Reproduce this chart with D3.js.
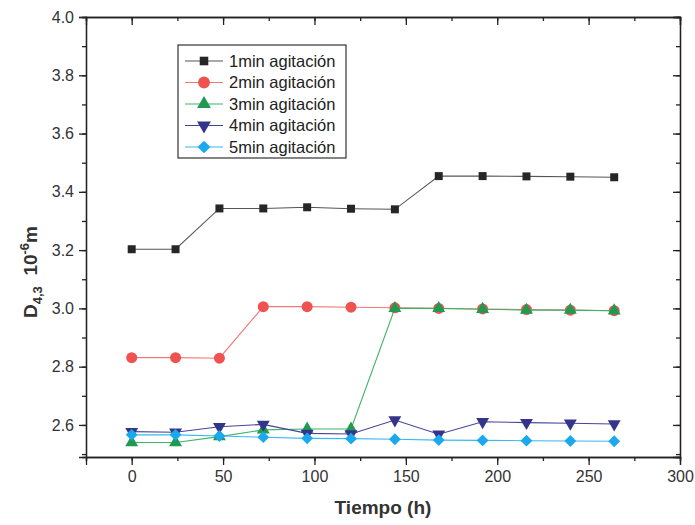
<!DOCTYPE html>
<html>
<head>
<meta charset="utf-8">
<script src="https://cdn.jsdelivr.net/npm/d3@7"></script>
<style>
  body { margin: 0; background: #fff; }
  svg { font-family: "Liberation Sans", Arial, sans-serif; }
  .axis path, .axis line { stroke: #222; stroke-width: 1.3; }
  .axis text { fill: #333; font-size: 16px; }
</style>
</head>
<body>
<svg id="chart" width="695" height="525"></svg>
<script>
// tiempo (h)
const tiempo = [0, 24, 48, 72, 96, 120, 144, 168, 192, 216, 240, 264];

const min1 = [3.203, 3.203, 3.343, 3.343, 3.347, 3.342, 3.340, 3.454, 3.454, 3.453, 3.452, 3.450];
const min2 = [2.831, 2.831, 2.829, 3.006, 3.006, 3.004, 3.002, 3.000, 2.998, 2.996, 2.994, 2.992];
const min3 = [2.540, 2.540, 2.560, 2.583, 2.586, 2.586, 3.000, 3.000, 2.997, 2.994, 2.994, 2.992];
const min4 = [2.577, 2.575, 2.594, 2.602, 2.571, 2.569, 2.617, 2.568, 2.611, 2.608, 2.606, 2.603];
const min5 = [2.566, 2.566, 2.562, 2.558, 2.554, 2.553, 2.551, 2.548, 2.547, 2.546, 2.545, 2.544];

const nombres = ["1min agitación", "2min agitación", "3min agitación", "4min agitación", "5min agitación"];
const xTicks = [0, 50, 100, 150, 200, 250, 300];
const yTicks = [2.6, 2.8, 3.0, 3.2, 3.4, 3.6, 3.8, 4.0];

const series = [
    { name: nombres[0], values: min1, fill: "#262626", line: "#555", shape: "square" },
    { name: nombres[1], values: min2, fill: "#f0524f", line: "#f07a78", shape: "circle" },
    { name: nombres[2], values: min3, fill: "#1f9a50", line: "#3cb46a", shape: "up" },
    { name: nombres[3], values: min4, fill: "#34348a", line: "#45459a", shape: "down" },
    { name: nombres[4], values: min5, fill: "#1aa9ef", line: "#3ab8f0", shape: "diamond" }
];

const svg = d3.select("#chart");
const margin = { top: 17, right: 15, bottom: 68, left: 86 };
const W = 695, H = 525;
const w = W - margin.left - margin.right;
const h = H - margin.top - margin.bottom;

const x = d3.scaleLinear().domain([-25, 300]).range([0, w]);
const y = d3.scaleLinear().domain([2.49, 4.0]).range([h, 0]);

const g = svg.append("g").attr("transform", `translate(${margin.left},${margin.top})`);

// ejes: mayores, menores y espejo arriba/derecha
const xMinor = d3.range(-25, 301, 25);
const yMinor = d3.range(2.5, 4.01, 0.1);

g.append("g").attr("class", "axis").attr("transform", `translate(0,${h})`)
    .call(d3.axisBottom(x).tickValues(xMinor).tickSize(4).tickFormat(""));
g.append("g").attr("class", "axis").attr("transform", `translate(0,${h})`)
    .call(d3.axisBottom(x).tickValues(xTicks).tickSize(8).tickPadding(6).tickFormat(d3.format("d")));
g.append("g").attr("class", "axis")
    .call(d3.axisLeft(y).tickValues(yMinor).tickSize(4).tickFormat(""));
g.append("g").attr("class", "axis")
    .call(d3.axisLeft(y).tickValues(yTicks).tickSize(7).tickPadding(5).tickFormat(d3.format(".1f")));
g.append("g").attr("class", "axis")
    .call(d3.axisBottom(x).tickValues(xMinor).tickSize(4).tickFormat(""));
g.append("g").attr("class", "axis")
    .call(d3.axisBottom(x).tickValues(xTicks).tickSize(8).tickFormat(""));
g.append("g").attr("class", "axis").attr("transform", `translate(${w},0)`)
    .call(d3.axisLeft(y).tickValues(yMinor).tickSize(4).tickFormat(""));
g.append("g").attr("class", "axis").attr("transform", `translate(${w},0)`)
    .call(d3.axisLeft(y).tickValues(yTicks).tickSize(7).tickFormat(""));

function symbolPath(shape, scale) {
    const k = scale || 1;
    if (shape === "square") return d3.symbol(d3.symbolSquare, 64 * k)();
    if (shape === "circle") return d3.symbol(d3.symbolCircle, 95 * k)();
    if (shape === "diamond") return d3.symbol(d3.symbolSquare, 70 * k)();
    return d3.symbol(d3.symbolTriangle, 72 * k)();
}
function symbolRotate(shape) {
    if (shape === "down") return 180;
    if (shape === "diamond") return 45;
    return 0;
}

const line = d3.line().x(d => x(d[0])).y(d => y(d[1]));

series.forEach(s => {
    const pts = tiempo.map((t, i) => [t, s.values[i]]);
    g.append("path").datum(pts)
        .attr("fill", "none")
        .attr("stroke", s.line)
        .attr("stroke-width", 1.1)
        .attr("d", line);
    g.append("g").selectAll("path").data(pts).join("path")
        .attr("d", symbolPath(s.shape))
        .attr("fill", s.fill)
        .attr("transform", d => `translate(${x(d[0])},${y(d[1])}) rotate(${symbolRotate(s.shape)})`);
});

// leyenda
const lg = svg.append("g").attr("transform", "translate(178,45)");
lg.append("rect").attr("width", 168).attr("height", 113)
    .attr("fill", "#fff").attr("stroke", "#333").attr("stroke-width", 1.2);
series.forEach((s, i) => {
    const yy = 16 + i * 21.5;
    lg.append("line").attr("x1", 7).attr("x2", 45).attr("y1", yy).attr("y2", yy)
        .attr("stroke", s.line).attr("stroke-width", 1.1);
    lg.append("path").attr("d", symbolPath(s.shape, 1.15))
        .attr("fill", s.fill)
        .attr("transform", `translate(26,${yy}) rotate(${symbolRotate(s.shape)})`);
    lg.append("text").attr("x", 51).attr("y", yy + 5.5)
        .attr("font-size", "16.5px").attr("fill", "#222")
        .text(s.name);
});

// títulos
svg.append("text")
    .attr("x", margin.left + w / 2).attr("y", 514)
    .attr("text-anchor", "middle")
    .attr("font-size", "19px").attr("font-weight", "bold").attr("fill", "#333")
    .text("Tiempo (h)");

const yl = svg.append("text")
    .attr("transform", "translate(37,272) rotate(-90)")
    .attr("text-anchor", "middle")
    .attr("font-size", "19px").attr("font-weight", "bold").attr("fill", "#333");
yl.append("tspan").text("D");
yl.append("tspan").attr("font-size", "13px").attr("dy", 5).text("4,3");
yl.append("tspan").attr("dy", -5).text("\u00a0\u00a010");
yl.append("tspan").attr("font-size", "13px").attr("dy", -8).text("-6");
yl.append("tspan").attr("dy", 8).text("m");
</script>
</body>
</html>
